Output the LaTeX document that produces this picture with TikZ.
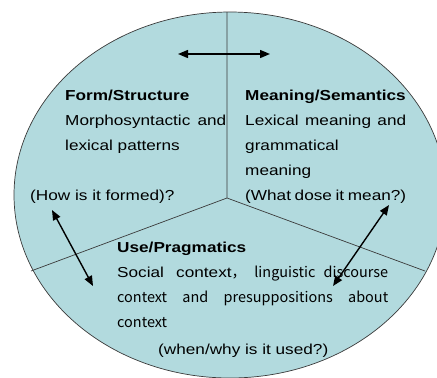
\documentclass[tikz,border=0pt]{standalone}
\usepackage{fontspec}
\setmainfont{Liberation Sans}[FakeStretch=1.19]
\newfontfamily\cjk{Noto Sans CJK SC}
\usetikzlibrary{arrows.meta}
\definecolor{discfill}{HTML}{B2DADE}
\definecolor{rimgray}{HTML}{3A3A3A}

\begin{document}
\begin{tikzpicture}[x=1bp,y=-1bp,
  every node/.style={inner sep=0pt,anchor=base west,font=\fontsize{14.5}{25}\selectfont},
  block/.style={align=justify},
  twoway/.style={{Triangle[length=10bp,width=8bp]}-{Triangle[length=10bp,width=8bp]},line width=1.4bp}]
  \useasboundingbox (0,0) rectangle (437,377);
  % the disc and its three sectors
  \draw[fill=discfill,draw=rimgray,line width=0.7bp] (230,195) ellipse [x radius=216, y radius=183];
  \coordinate (hub) at (227,198);
  \coordinate (north) at (227,12);
  \coordinate (west) at (31,271);
  \coordinate (east) at (425,271);
  \draw[rimgray,line width=0.7bp] (north) -- (hub) (west) -- (hub) -- (east);
  % texts
  \node[block,text width=161bp] (form) at (65,100.5)
    {\textbf{Form/Structure}\\Morphosyntactic and\linebreak lexical patterns};
  \node (formq) at (30,200.5) {(How is it formed)?};
  \node[block,text width=161bp] (meaning) at (245,100.5)
    {\textbf{Meaning/Semantics}\\Lexical meaning and\linebreak grammatical\\meaning\\(What dose it mean?)};
  \node[block,text width=271bp] (use) at (117,252.5)
    {\textbf{Use/Pragmatics}\\Social context\cjk{，} linguistic discourse\linebreak context and presuppositions about\linebreak context};
  \node (useq) at (158,354) {(when/why is it used?)};
  % arrows between the sectors
  \coordinate (fm1) at (178,54);
  \coordinate (fm2) at (270,54);
  \coordinate (fu1) at (52,210);
  \coordinate (fu2) at (93,286);
  \coordinate (mu1) at (333,286);
  \coordinate (mu2) at (389,205);
  \draw[twoway] (fm1) -- (fm2);
  \draw[twoway] (fu1) -- (fu2);
  \draw[twoway] (mu1) -- (mu2);
\end{tikzpicture}
\end{document}
